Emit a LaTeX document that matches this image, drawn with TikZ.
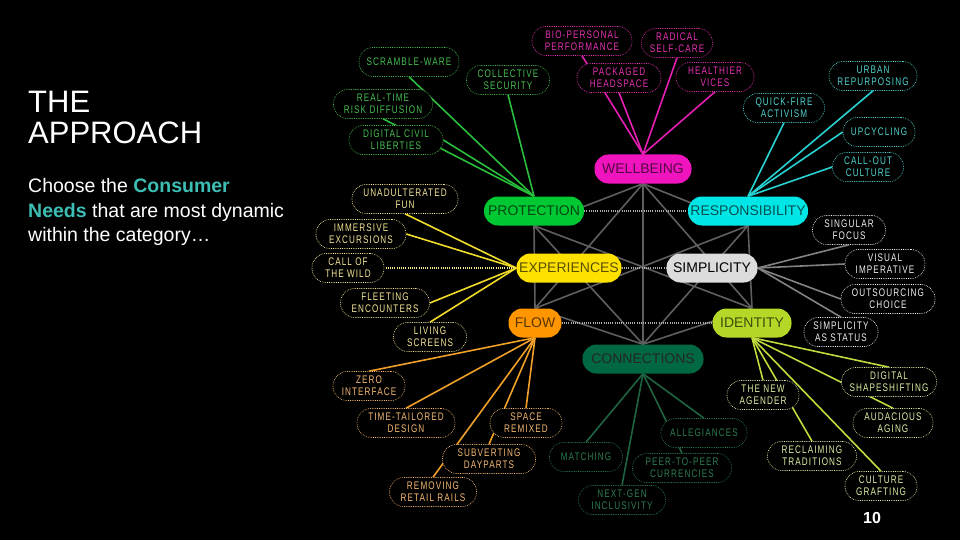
\documentclass[tikz,border=0pt]{standalone}
\usepackage{fontspec}
\setmainfont{Liberation Sans}
\newfontfamily\labfont[FakeStretch=0.74,LetterSpace=10]{Liberation Sans}
\newfontfamily\hubfont{Liberation Sans}
\usetikzlibrary{backgrounds}
\definecolor{mag}{RGB}{240,20,190}
\definecolor{magt}{RGB}{230,50,180}
\definecolor{magl}{RGB}{230,30,180}
\definecolor{cya}{RGB}{0,230,230}
\definecolor{cyat}{RGB}{80,210,205}
\definecolor{cyal}{RGB}{40,210,210}
\definecolor{grn}{RGB}{0,200,50}
\definecolor{grnt}{RGB}{70,190,80}
\definecolor{grnl}{RGB}{40,190,60}
\definecolor{yel}{RGB}{255,225,0}
\definecolor{yelt}{RGB}{245,230,150}
\definecolor{yell}{RGB}{240,220,40}
\definecolor{ora}{RGB}{255,150,0}
\definecolor{orat}{RGB}{245,185,115}
\definecolor{oral}{RGB}{240,160,40}
\definecolor{dgr}{RGB}{0,105,65}
\definecolor{dgrt}{RGB}{45,125,80}
\definecolor{dgrl}{RGB}{30,100,65}
\definecolor{lim}{RGB}{180,215,40}
\definecolor{limt}{RGB}{220,240,165}
\definecolor{liml}{RGB}{190,220,60}
\definecolor{lgr}{RGB}{220,220,220}
\definecolor{whtt}{RGB}{240,240,240}
\definecolor{grl}{RGB}{130,130,130}
\definecolor{meshc}{RGB}{95,95,95}
\definecolor{dotc}{RGB}{170,170,170}
\definecolor{tealc}{RGB}{60,190,180}
\begin{document}
\begin{tikzpicture}[x=1pt,y=-1pt,
  ol/.style={draw=#1, text=#1, fill=black, dash pattern=on 0.8pt off 1pt, line width=0.6pt,
    rounded corners=14pt, minimum height=29pt, align=center, inner sep=1pt,
    font=\labfont\fontsize{11}{12}\selectfont},
  hub/.style={fill=#1, text=#1!35!black, rounded corners=14pt, minimum height=29pt,
    inner sep=2pt, font=\hubfont\fontsize{14}{14}\selectfont},
  mw/.style={minimum width=#1pt},
  cn/.style={draw=#1, line width=1.6pt},
  meshline/.style={draw=meshc, line width=1.6pt},
  dotline/.style={draw=#1, line width=1.3pt, dash pattern=on 1pt off 1.2pt}
]
\useasboundingbox (0,0) rectangle (960,540);

% left text
\node[anchor=base west, inner sep=0pt, text=white, font=\fontsize{31}{31}\selectfont] (t1) at (28,113) {THE};
\node[anchor=base west, inner sep=0pt, text=white, font=\fontsize{31}{31}\selectfont] (t2) at (28,144) {APPROACH};
\node[anchor=base west, inner sep=0pt, text=white, font=\fontsize{19.5}{19.5}\selectfont] (b1) at (28,192) {Choose the \textbf{\color{tealc}Consumer}};
\node[anchor=base west, inner sep=0pt, text=white, font=\fontsize{19.5}{19.5}\selectfont] (b2) at (28,217) {\textbf{\color{tealc}Needs} that are most dynamic};
\node[anchor=base west, inner sep=0pt, text=white, font=\fontsize{19.5}{19.5}\selectfont] (b3) at (28,241) {within the category\ldots};
\node[text=white, inner sep=0pt, font=\bfseries\fontsize{16}{16}\selectfont] (pg) at (872,518) {10};

% hubs
\node[hub=mag, mw=97] (W) at (643,169) {WELLBEING};
\node[hub=grn, mw=100] (P) at (534,211) {PROTECTION};
\node[hub=cya, mw=120] (R) at (748,211) {RESPONSIBILITY};
\node[hub=yel, mw=105] (E) at (569,268) {EXPERIENCES};
\node[hub=lgr, mw=91, text=black] (S) at (712,268) {SIMPLICITY};
\node[hub=ora, mw=53] (F) at (535,323) {FLOW};
\node[hub=lim, mw=79] (I) at (752,323) {IDENTITY};
\node[hub=dgr, mw=121, text=black!85] (C) at (643,359) {CONNECTIONS};

% magenta
\node[ol=magt, mw=100] (bio) at (582,41) {BIO-PERSONAL\\PERFORMANCE};
\node[ol=magt, mw=71] (rad) at (677,43) {RADICAL\\SELF-CARE};
\node[ol=magt, mw=84] (pack) at (619,78) {PACKAGED\\HEADSPACE};
\node[ol=magt, mw=78] (heal) at (715,77) {HEALTHIER\\VICES};
% cyan
\node[ol=cyat, mw=81] (quick) at (784,108) {QUICK-FIRE\\ACTIVISM};
\node[ol=cyat, mw=88] (urban) at (873,76) {URBAN\\REPURPOSING};
\node[ol=cyat, mw=72] (upcyc) at (879,132) {UPCYCLING};
\node[ol=cyat, mw=71] (callout) at (868,167) {CALL-OUT\\CULTURE};
% white
\node[ol=whtt, mw=73] (sing) at (849,230) {SINGULAR\\FOCUS};
\node[ol=whtt, mw=80] (vis) at (885,264) {VISUAL\\IMPERATIVE};
\node[ol=whtt, mw=94] (outs) at (888,299) {OUTSOURCING\\CHOICE};
\node[ol=whtt, mw=74] (sstat) at (841,332) {SIMPLICITY\\AS STATUS};
% green
\node[ol=grnt, mw=100] (scr) at (409,62) {SCRAMBLE-WARE};
\node[ol=grnt, mw=83] (coll) at (508,80) {COLLECTIVE\\SECURITY};
\node[ol=grnt, mw=99] (real) at (383,104) {REAL-TIME\\RISK DIFFUSION};
\node[ol=grnt, mw=94] (dig) at (396,140) {DIGITAL CIVIL\\LIBERTIES};
% yellow
\node[ol=yelt, mw=106] (unad) at (405,199) {UNADULTERATED\\FUN};
\node[ol=yelt, mw=90] (imm) at (361,234) {IMMERSIVE\\EXCURSIONS};
\node[ol=yelt, mw=72] (cotw) at (348,268) {CALL OF\\THE WILD};
\node[ol=yelt, mw=89] (fleet) at (385,303) {FLEETING\\ENCOUNTERS};
\node[ol=yelt, mw=73] (liv) at (430,337) {LIVING\\SCREENS};
% orange
\node[ol=orat, mw=72] (zero) at (369,386) {ZERO\\INTERFACE};
\node[ol=orat, mw=98] (ttd) at (406,423) {TIME-TAILORED\\DESIGN};
\node[ol=orat, mw=72] (space) at (526,423) {SPACE\\REMIXED};
\node[ol=orat, mw=93] (subv) at (489,459) {SUBVERTING\\DAYPARTS};
\node[ol=orat, mw=87] (remv) at (433,492) {REMOVING\\RETAIL RAILS};
% dark green
\node[ol=dgrt, mw=73] (match) at (586,457) {MATCHING};
\node[ol=dgrt, mw=87] (nextg) at (622,500) {NEXT-GEN\\INCLUSIVITY};
\node[ol=dgrt, mw=86] (alleg) at (704,433) {ALLEGIANCES};
\node[ol=dgrt, mw=99] (peer) at (682,468) {PEER-TO-PEER\\CURRENCIES};
% lime
\node[ol=limt, mw=72] (agen) at (763,395) {THE NEW\\AGENDER};
\node[ol=limt, mw=95] (dshape) at (889,382) {DIGITAL\\SHAPESHIFTING};
\node[ol=limt, mw=80] (auda) at (893,423) {AUDACIOUS\\AGING};
\node[ol=limt, mw=89] (recl) at (812,456) {RECLAIMING\\TRADITIONS};
\node[ol=limt, mw=72] (cult) at (881,486) {CULTURE\\GRAFTING};

\begin{scope}[on background layer]
\fill[black] (0,0) rectangle (960,540);
% mesh
\foreach \a/\b in {W.south/P.south, W.south/R.south, W.south/F.north, W.south/I.north, W.south/C.north,
  P.south/F.north, P.south/I.north, P.south/C.north,
  R.south/F.north, R.south/I.north, R.south/C.north,
  F.north/C.north, I.north/C.north}
  \draw[meshline] (\a) -- (\b);
\draw[dotline=dotc] (P.east) -- (R.west);
\draw[dotline=dotc] (E.east) -- (S.west);
\draw[dotline=dotc] (F.east) -- (I.west);
% spokes
\foreach \n in {bio,rad,pack,heal} \draw[cn=magl] (W.north) -- (\n.south);
\draw[cn=cyal] (R.north) -- (quick.south);
\draw[cn=cyal] (R.north) -- (urban.south);
\draw[cn=cyal] (R.north) -- (upcyc.west);
\draw[cn=cyal] (R.north) -- (callout.west);
\draw[cn=grl] (S.east) -- (sing.south);
\draw[cn=grl] (S.east) -- (vis.west);
\draw[cn=grl] (S.east) -- (outs.west);
\draw[cn=grl] (S.east) -- (sstat.north);
\draw[cn=grnl] (P.north) -- (scr.south);
\draw[cn=grnl] (P.north) -- (coll.south);
\draw[cn=grnl] (P.north) -- (real.south);
\draw[cn=grnl] (P.north) -- (dig.east);
\draw[cn=yell] (E.west) -- (unad.south);
\draw[cn=yell] (E.west) -- (imm.east);
\draw[dotline=yelt] (E.west) -- (cotw.east);
\draw[cn=yell] (E.west) -- (fleet.east);
\draw[cn=yell] (E.west) -- (liv.north);
\foreach \n in {zero,ttd,space,subv,remv} \draw[cn=oral] (F.south) -- (\n.north);
\foreach \n in {match,nextg,alleg,peer} \draw[cn=dgrl] (C.south) -- (\n.north);
\foreach \n in {agen,dshape,auda,recl,cult} \draw[cn=liml] (I.south) -- (\n.north);
\end{scope}
\end{tikzpicture}
\end{document}
